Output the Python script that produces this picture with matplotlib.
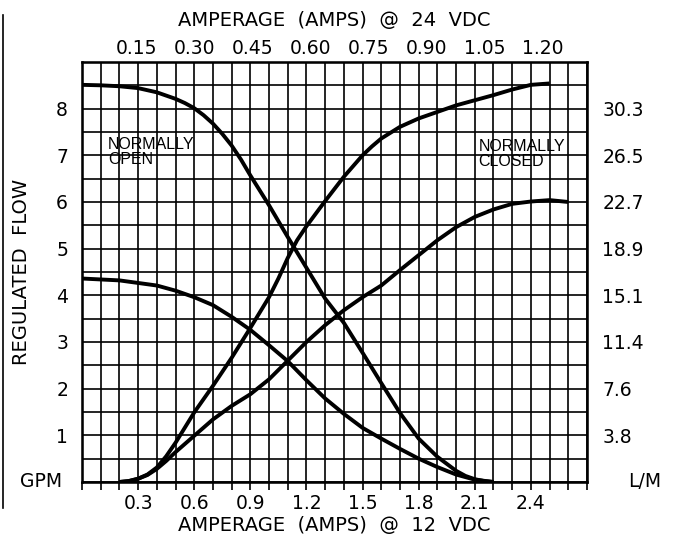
import matplotlib.pyplot as plt
from matplotlib.lines import Line2D
from matplotlib.ticker import MultipleLocator

# amperage at 12 VDC (A) vs regulated flow (GPM)
no_hi_amps = [0, 0.1, 0.2, 0.3, 0.4, 0.5, 0.55, 0.6, 0.65, 0.7, 0.75, 0.8,
              0.85, 0.9, 1.0, 1.1, 1.2, 1.3, 1.4, 1.5, 1.6, 1.7, 1.8, 1.9,
              2.0, 2.05, 2.1, 2.15, 2.2]
no_hi_gpm = [8.51, 8.50, 8.48, 8.44, 8.35, 8.21, 8.12, 8.01, 7.86, 7.68, 7.46,
             7.21, 6.91, 6.57, 5.93, 5.25, 4.59, 3.93, 3.41, 2.77, 2.12, 1.48,
             0.93, 0.54, 0.24, 0.13, 0.06, 0.02, 0.0]

no_lo_amps = [0, 0.2, 0.4, 0.5, 0.6, 0.7, 0.8, 0.9, 1.0, 1.1, 1.2, 1.3, 1.4,
              1.5, 1.6, 1.7, 1.8, 1.9, 2.0, 2.1, 2.2]
no_lo_gpm = [4.36, 4.32, 4.21, 4.10, 3.96, 3.79, 3.54, 3.26, 2.93, 2.59, 2.18,
             1.79, 1.46, 1.16, 0.93, 0.71, 0.50, 0.32, 0.16, 0.05, 0.0]

nc_hi_amps = [0.2, 0.25, 0.3, 0.35, 0.4, 0.45, 0.5, 0.6, 0.7, 0.8, 0.9, 1.0,
              1.05, 1.1, 1.15, 1.2, 1.25, 1.3, 1.4, 1.5, 1.55, 1.6, 1.7, 1.8,
              1.9, 2.0, 2.1, 2.2, 2.3, 2.4, 2.5]
nc_hi_gpm = [0.0, 0.02, 0.07, 0.16, 0.31, 0.55, 0.84, 1.49, 2.06, 2.66, 3.30,
             3.96, 4.36, 4.80, 5.18, 5.48, 5.75, 6.02, 6.54, 7.0, 7.19, 7.36,
             7.61, 7.79, 7.93, 8.07, 8.18, 8.29, 8.41, 8.51, 8.54]

nc_lo_amps = [0.2, 0.25, 0.3, 0.35, 0.4, 0.45, 0.5, 0.6, 0.7, 0.8, 0.9, 1.0,
              1.1, 1.2, 1.3, 1.4, 1.5, 1.6, 1.7, 1.8, 1.9, 2.0, 2.1, 2.2, 2.3,
              2.4, 2.5, 2.6]
nc_lo_gpm = [0.0, 0.02, 0.07, 0.15, 0.28, 0.45, 0.64, 0.99, 1.34, 1.63, 1.88,
             2.20, 2.60, 3.0, 3.36, 3.68, 3.96, 4.21, 4.54, 4.86, 5.18, 5.46,
             5.68, 5.84, 5.96, 6.01, 6.04, 6.0]

amps12_ticks = [0.3, 0.6, 0.9, 1.2, 1.5, 1.8, 2.1, 2.4]
amps24_ticks = [0.15, 0.30, 0.45, 0.60, 0.75, 0.90, 1.05, 1.20]
gpm_ticks = [1, 2, 3, 4, 5, 6, 7, 8]
lpm_labels = ["3.8", "7.6", "11.4", "15.1", "18.9", "22.7", "26.5", "30.3"]

plt.rcParams['font.family'] = ['DejaVu Sans']

fig = plt.figure(figsize=(6.86, 5.38), dpi=100)
ax = fig.add_axes([0.1195, 0.1041, 0.7362, 0.7807])

for xs, ys in [(no_hi_amps, no_hi_gpm), (no_lo_amps, no_lo_gpm),
               (nc_hi_amps, nc_hi_gpm), (nc_lo_amps, nc_lo_gpm)]:
    ax.plot(xs, ys, color="black", linewidth=2.8, solid_capstyle="butt",
            solid_joinstyle="round", zorder=3)

ax.set_xlim(0, 2.7)
ax.set_ylim(0, 9)
ax.set_xticks(amps12_ticks)
ax.set_xticklabels([f"{v:.1f}" for v in amps12_ticks])
ax.xaxis.set_minor_locator(MultipleLocator(0.1))
ax.set_yticks(gpm_ticks)
ax.yaxis.set_minor_locator(MultipleLocator(0.5))
ax.grid(which="both", color="black", linewidth=1.2)
ax.tick_params(axis="x", which="both", direction="out", length=6, width=1.2,
               labelsize=13.5, pad=3)
ax.tick_params(axis="y", which="both", length=0, labelsize=13.5, pad=10)
for s in ax.spines.values():
    s.set_linewidth(1.8)

ax.set_xlabel("AMPERAGE  (AMPS)  @  12  VDC", fontsize=14, labelpad=2)
ax.set_ylabel("REGULATED  FLOW", fontsize=14, labelpad=18)

ax_r = ax.twinx()
ax_r.set_ylim(0, 9)
ax_r.set_yticks(gpm_ticks)
ax_r.set_yticklabels(lpm_labels)
ax_r.tick_params(axis="y", length=0, labelsize=13.5, pad=11)

ax_t = ax.twiny()
ax_t.set_xlim(0.008, 1.314)
ax_t.set_xticks(amps24_ticks)
ax_t.set_xticklabels([f"{v:.2f}" for v in amps24_ticks])
ax_t.tick_params(axis="x", length=0, labelsize=13.5, pad=3)
ax_t.set_xlabel("AMPERAGE  (AMPS)  @  24  VDC", fontsize=14, labelpad=9)

ax.text(-0.04, 0, "GPM", transform=ax.get_yaxis_transform(), ha="right",
        va="center", fontsize=13.5)
ax.text(1.081, 0, "L/M", transform=ax.get_yaxis_transform(), ha="left",
        va="center", fontsize=13.5)

ax.text(0.139, 7.40, "NORMALLY\nOPEN", ha="left", va="top", fontsize=11.5,
        family=["Liberation Sans", "DejaVu Sans"], linespacing=1.0, zorder=4)
ax.text(2.12, 7.35, "NORMALLY\nCLOSED", ha="left", va="top", fontsize=11.5,
        family=["Liberation Sans", "DejaVu Sans"], linespacing=1.0, zorder=4)

fig.add_artist(Line2D([3 / 686, 3 / 686], [1 - 15 / 538, 1 - 508 / 538],
                      color="black", linewidth=1.2))

fig.savefig("out.png", dpi=100)
